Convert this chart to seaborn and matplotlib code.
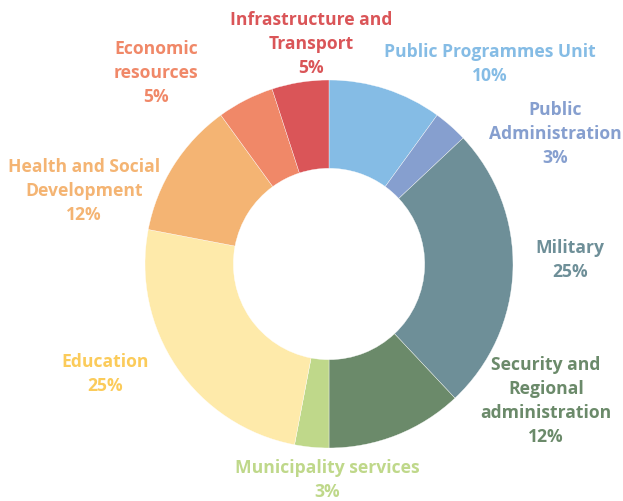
import matplotlib
matplotlib.use("Agg")
import matplotlib.pyplot as plt
import seaborn as sns

# Budget shares by sector (percent), clockwise from 12 o'clock
sectors = [
    "Public Programmes Unit",
    "Public Administration",
    "Military",
    "Security and Regional administration",
    "Municipality services",
    "Education",
    "Health and Social Development",
    "Economic resources",
    "Infrastructure and Transport",
]
shares = [10, 3, 25, 12, 3, 25, 12, 5, 5]

# Label text as it is broken over lines
label_lines = [
    "Public Programmes Unit",
    "Public\nAdministration",
    "Military",
    "Security and\nRegional\nadministration",
    "Municipality services",
    "Education",
    "Health and Social\nDevelopment",
    "Economic\nresources",
    "Infrastructure and\nTransport",
]

wedge_colors = ["#85BCE5", "#869FCF", "#6E8F98", "#6B8A6A", "#BFD88A",
                "#FEEAAA", "#F4B473", "#F08868", "#DA5558"]
text_colors = ["#85BCE5", "#869FCF", "#6E8F98", "#6B8A6A", "#BFD88A",
               "#FBCB5A", "#F4B473", "#F08868", "#DA5558"]

# Label anchor points in pixels (x, top-line y) on a 623x502 canvas
label_pos = [(490, 52), (555, 110), (570, 248), (546, 365), (327, 468),
             (105, 362), (84, 167), (156, 49), (311, 20)]

sns.set_theme(style="white")
plt.rcParams["font.family"] = ["Open Sans", "DejaVu Sans"]

W, H = 623, 502
fig = plt.figure(figsize=(W / 100, H / 100), dpi=100)
ax = fig.add_axes([0, 0, 1, 1])

cx, cy, R = 329, 265, 184
ax.pie(shares, colors=wedge_colors, startangle=90, counterclock=False,
       radius=1.0, center=(0, 0),
       wedgeprops=dict(width=0.48, linewidth=0.25, edgecolor="white"))

ax.set_xlim(-cx / R, (W - cx) / R)
ax.set_ylim(-(H - cy) / R, cy / R)
ax.set_aspect("equal")
ax.axis("off")

line_h = 24
for txt, val, col, (px, py) in zip(label_lines, shares, text_colors, label_pos):
    lines = txt.split("\n") + [f"{val}%"]
    for i, ln in enumerate(lines):
        y_px = py + i * line_h
        fig.text(px / W, 1 - y_px / H, ln, ha="center", va="center",
                 color=col, fontsize=12.6, fontweight="bold")

fig.savefig("out.png", dpi=100)
